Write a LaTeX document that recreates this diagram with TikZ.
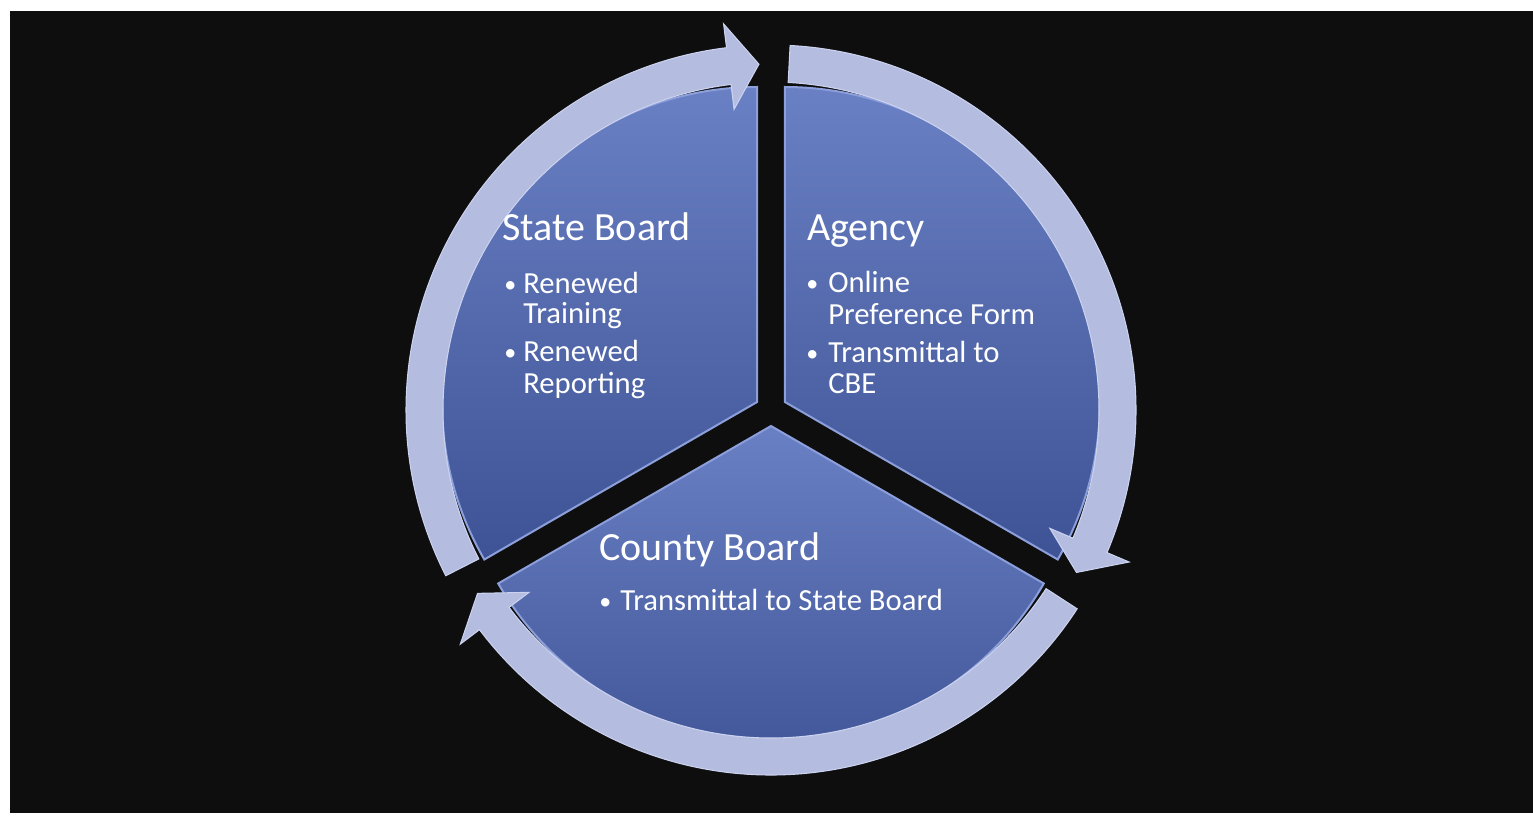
\documentclass[tikz,border=0pt]{standalone}
\usepackage{fontspec}
\setmainfont{Carlito}
\definecolor{bgblack}{HTML}{0E0E0E}
\definecolor{ringlav}{HTML}{B4BCDF}
\definecolor{ringedge}{HTML}{CBD2EF}
\definecolor{secTop}{HTML}{6A80C4}
\definecolor{secBot}{HTML}{3D5395}
\definecolor{secEdge}{HTML}{8C9FDB}
\tikzset{
  sector/.style={top color=secTop, bottom color=secBot, draw=secEdge, line width=1.5},
  ringarrow/.style={fill=ringlav, draw=ringedge, line width=0.8, line join=miter},
  titletext/.style={anchor=base west, inner sep=0, text=white, font=\fontsize{30}{36}\selectfont},
  itemtext/.style={anchor=base west, inner sep=0, text=white, font=\fontsize{23}{27}\selectfont},
  dottext/.style={anchor=base west, inner sep=0, text=white, font=\fontsize{18}{27}\selectfont}
}
\newcommand{\cyclearrow}[3]{%
  \filldraw [ringarrow] ([shift={(771,410)}]#1:365) arc [start angle=#1, end angle=#2, radius=365]
    -- ([shift={(771,410)}]#2:389) -- ([shift={(771,410)}]#3:346) -- ([shift={(771,410)}]#2:303)
    -- ([shift={(771,410)}]#2:328) arc [start angle=#2, end angle=#1, radius=328] -- cycle;}
\begin{document}
\begin{tikzpicture}[x=0.75pt,y=0.75pt,yscale=-1,xscale=1]
    \useasboundingbox (0,0) rectangle (1533,817);
    \fill [white] (0,0) rectangle (1533,817);
    \fill [bgblack] (10,11) rectangle (1533,813);

    %Shape: Sector [State Board]
    \fill [sector] (757.1,402) -- ++(-210:315) arc [start angle=-210, end angle=-90, radius=315] -- cycle;
    %Shape: Sector [Agency]
    \fill [sector] (784.9,402) -- ++(-90:315) arc [start angle=-90, end angle=30, radius=315] -- cycle;
    %Shape: Sector [County Board]
    \fill [sector] (771,426) -- ++(30:315) arc [start angle=30, end angle=150, radius=315] -- cycle;

    %Shape: Circular Arrows
    \cyclearrow{-207}{-97}{-92}
    \cyclearrow{-87}{23}{28}
    \cyclearrow{33}{143}{148}

    % Text Node
    \draw (502,240) node (sbTitle) [titletext] {State Board};
    % Text Node
    \draw (504,292) node (sbDotA) [dottext] {•};
    \draw (523,293) node (sbItemA) [itemtext] {Renewed};
    \draw (523,323) node (sbItemAb) [itemtext] {Training};
    % Text Node
    \draw (504,360) node (sbDotB) [dottext] {•};
    \draw (523,361) node (sbItemB) [itemtext] {Renewed};
    \draw (523,393) node (sbItemBb) [itemtext] {Reporting};

    % Text Node
    \draw (807,240) node (agTitle) [titletext] {Agency};
    % Text Node
    \draw (806,291) node (agDotA) [dottext] {•};
    \draw (828,292) node (agItemA) [itemtext] {Online};
    \draw (828,324) node (agItemAb) [itemtext] {Preference Form};
    % Text Node
    \draw (806,361) node (agDotB) [dottext] {•};
    \draw (828,362) node (agItemB) [itemtext] {Transmittal to};
    \draw (828,393) node (agItemBb) [itemtext] {CBE};

    % Text Node
    \draw (599,560) node (cbTitle) [titletext] {County Board};
    % Text Node
    \draw (599,609) node (cbDotA) [dottext] {•};
    \draw (620,610) node (cbItemA) [itemtext] {Transmittal to State Board};
\end{tikzpicture}
\end{document}
